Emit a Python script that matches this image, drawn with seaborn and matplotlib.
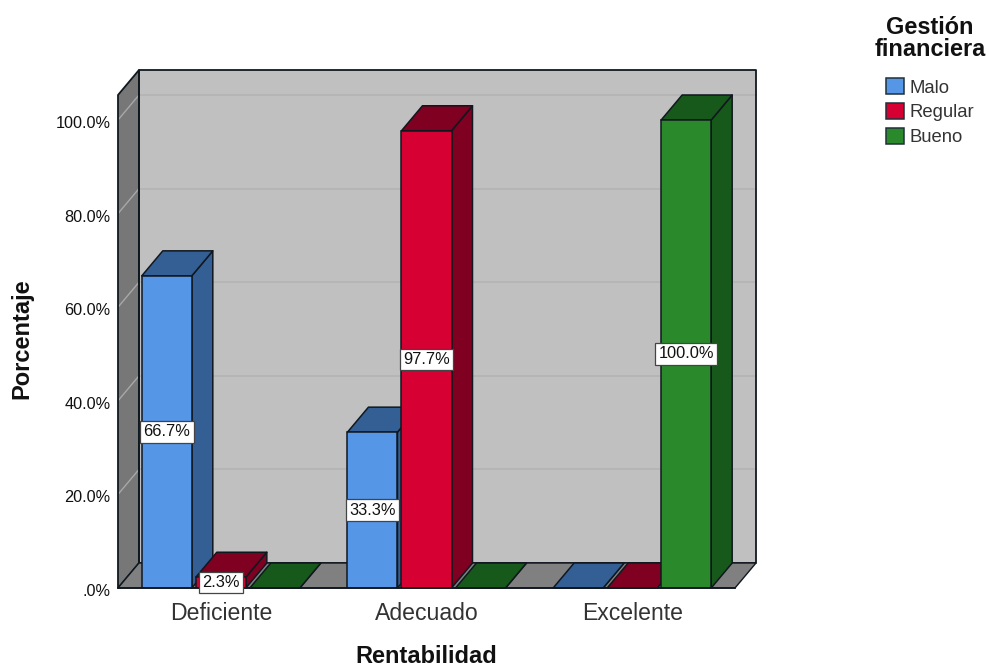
import matplotlib
matplotlib.use("Agg")
import matplotlib.pyplot as plt
from matplotlib.patches import Polygon
from matplotlib.colors import to_rgb
from matplotlib.transforms import ScaledTranslation
import pandas as pd
import seaborn as sns

categories = ["Deficiente", "Adecuado", "Excelente"]
series_names = ["Malo", "Regular", "Bueno"]
malo = [66.7, 33.3, 0.0]
regular = [2.3, 97.7, 0.0]
bueno = [0.0, 0.0, 100.0]
y_ticks = [0, 20, 40, 60, 80, 100]
y_tick_labels = [".0%", "20.0%", "40.0%", "60.0%", "80.0%", "100.0%"]

front_colors = ["#5596E6", "#D60032", "#2A8A2B"]
shade_colors = ["#335F95", "#7F0020", "#17591A"]
EDGE = "#10181F"
WALL = "#C0C0C0"
SIDE_WALL = "#777777"
FLOOR = "#808080"

# Extrusion of the pseudo-3D box, in data units
DEPTH_X = 0.102
DEPTH_Y = 5.34
Y_TOP = 105.34

sns.set_theme(style="white")
plt.rcParams["font.family"] = ["Liberation Sans", "DejaVu Sans"]

df = pd.DataFrame({
    "Rentabilidad": categories * 3,
    "Gestión": [s for s in series_names for _ in categories],
    "Porcentaje": malo + regular + bueno,
})

fig = plt.figure(figsize=(9.89, 6.68), dpi=100, facecolor="white")
ax = fig.add_axes([118 / 989, 1 - 588 / 668, (735 - 118) / 989, (588 - 95) / 668])
ax.patch.set_visible(False)

sns.barplot(
    data=df, x="Rentabilidad", y="Porcentaje", hue="Gestión",
    order=categories, hue_order=series_names, palette=front_colors,
    width=0.788, gap=0.074, saturation=1, errorbar=None,
    edgecolor=EDGE, linewidth=1.1, ax=ax,
)
ax.set_xlim(-0.5, 2.5)
ax.set_ylim(0, Y_TOP)

x0, x1 = ax.get_xlim()


def face(points, color, z, edge=EDGE, lw=1.1):
    ax.add_patch(Polygon(points, closed=True, facecolor=color, edgecolor=edge,
                         linewidth=lw, zorder=z, clip_on=False, joinstyle="round"))


# Box walls and floor; the outlines go on after the gridlines
back_wall = [(x0 + DEPTH_X, DEPTH_Y), (x1 + DEPTH_X, DEPTH_Y),
             (x1 + DEPTH_X, Y_TOP + DEPTH_Y), (x0 + DEPTH_X, Y_TOP + DEPTH_Y)]
side_wall = [(x0, 0), (x0 + DEPTH_X, DEPTH_Y), (x0 + DEPTH_X, Y_TOP + DEPTH_Y), (x0, Y_TOP)]
face(back_wall, WALL, 0.5, edge="none")
face(side_wall, SIDE_WALL, 0.6, edge="none")

# Gridlines run along the back wall and fold onto the side wall
for t in y_ticks[1:]:
    ax.plot([x0 + DEPTH_X, x1 + DEPTH_X], [t + DEPTH_Y] * 2, color="#B3B3B3", lw=1.2,
            zorder=0.8, clip_on=False)
    ax.plot([x0, x0 + DEPTH_X], [t, t + DEPTH_Y], color="#A8A8A8", lw=1.0,
            zorder=0.8, clip_on=False)

face(back_wall, "none", 0.85, lw=1.3)
face(side_wall, "none", 0.86, lw=1.3)
face([(x0, 0), (x1, 0), (x1 + DEPTH_X, DEPTH_Y), (x0 + DEPTH_X, DEPTH_Y)], FLOOR, 0.9, lw=1.0)

# Extrude every bar, painting from left to right so nearer bars overlap
bars = [(p, i) for i, c in enumerate(ax.containers) for p in c.patches]
bars.sort(key=lambda item: item[0].get_x())
for n, (bar, hue_idx) in enumerate(bars):
    z = 2 + n
    left, w, h = bar.get_x(), bar.get_width(), bar.get_height()
    right = left + w
    bar.set_zorder(z + 0.3)
    bar.set_facecolor(to_rgb(front_colors[hue_idx]))
    face([(right, 0), (right + DEPTH_X, DEPTH_Y), (right + DEPTH_X, h + DEPTH_Y), (right, h)],
         shade_colors[hue_idx], z)
    face([(left, h), (right, h), (right + DEPTH_X, h + DEPTH_Y), (left + DEPTH_X, h + DEPTH_Y)],
         shade_colors[hue_idx], z + 0.1)

# Value boxes at mid-height of each non-empty bar
for container in ax.containers:
    texts = ax.bar_label(
        container,
        labels=[f"{v.get_height():.1f}%" if v.get_height() > 0 else "" for v in container.patches],
        label_type="center", fontsize=11.8, color="#111111",
        bbox=dict(boxstyle="square,pad=0.2", facecolor="white", edgecolor="#444444", linewidth=0.9),
    )
    for t in texts:
        t.set_zorder(100)
        t.set_clip_on(False)

for side in ["top", "right", "left"]:
    ax.spines[side].set_visible(False)
ax.spines["bottom"].set_color(EDGE)
ax.spines["bottom"].set_linewidth(1.3)
ax.spines["bottom"].set_zorder(50)

ax.set_yticks(y_ticks, y_tick_labels)
ax.tick_params(axis="y", length=0, pad=5.5, labelsize=11.7, labelcolor="#111111")
ax.tick_params(axis="x", length=0, pad=9.8, labelsize=16.6, labelcolor="#333333")
nudge = ScaledTranslation(0, -2 / 72 * 0.72, fig.dpi_scale_trans)
for label in ax.get_yticklabels():
    label.set_transform(label.get_transform() + nudge)
ax.set_xlabel("Rentabilidad", fontsize=17, fontweight="bold", color="#111111", labelpad=14.5)
ax.set_ylabel("Porcentaje", fontsize=17, fontweight="bold", color="#111111", labelpad=14)
ax.yaxis.set_label_coords(-0.1365, 0.505)

sns.move_legend(
    ax, loc="upper center", bbox_to_anchor=(930 / 989, 1 - 16 / 668),
    bbox_transform=fig.transFigure, title="Gestión\nfinanciera", frameon=False,
    fontsize=13.3, handlelength=0.98, handleheight=0.98, handletextpad=0.28,
    labelspacing=0.34, borderpad=0, borderaxespad=0,
)
legend = ax.get_legend()
legend.get_title().set_fontsize(16.9)
legend.get_title().set_fontweight("bold")
legend.get_title().set_color("#111111")
legend.get_title().set_linespacing(0.95)
legend.get_title().set_multialignment("center")
legend._legend_box.sep = 12.2
for t in legend.get_texts():
    t.set_color("#333333")
for h in legend.legend_handles:
    h.set_edgecolor("#20303A")
    h.set_linewidth(1.1)

fig.savefig("out.png", dpi=100, facecolor="white")
